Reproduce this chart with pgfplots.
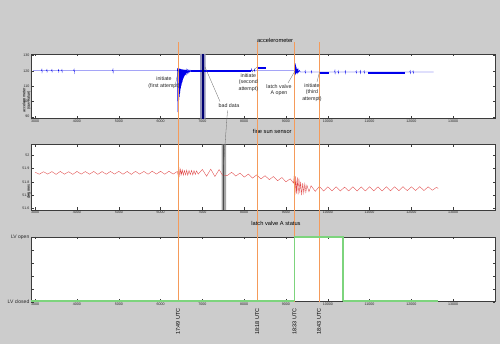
\documentclass[border=0pt]{standalone}
\usepackage{fontspec}
\setmainfont{Liberation Sans}
\usepackage{pgfplots}
\pgfplotsset{compat=1.18}
\definecolor{bg}{RGB}{204,204,204}
\definecolor{evt}{RGB}{245,155,90}
\definecolor{band1}{RGB}{150,150,185}
\definecolor{band2}{RGB}{165,165,165}
\definecolor{sig}{RGB}{225,70,70}
\definecolor{lvg}{RGB}{125,212,125}
\definecolor{frm}{RGB}{60,60,60}
\definecolor{acc}{RGB}{0,0,235}
\pgfplotsset{
 mystyle/.style={
  scale only axis, width=464pt, anchor=south west,
  xmin=2900, xmax=14000,
  xtick={3000,4000,...,13000},
  scaled ticks=false,
  axis background/.style={fill=white},
  tick align=inside, tick pos=both,
  major tick length=2.5pt,
  every tick/.style={frm, line width=0.3pt},
  axis line style={frm, line width=0.4pt},
  ticklabel style={font=\fontsize{3.6}{4}\selectfont, text=black!85},
  /pgf/number format/assume math mode=true,
  /pgf/number format/1000 sep={},
  xticklabel style={inner sep=1pt},
  yticklabel style={inner sep=1.5pt},
  title style={font=\fontsize{5.7}{6.5}\selectfont, anchor=south, inner sep=0pt},
  ylabel style={font=\fontsize{3.9}{4.6}\selectfont, align=center, at={(axis description cs:0,0.5)}, anchor=south, inner sep=0pt, xshift=-14pt},
 }
}
\newcommand\annfont{\fontsize{5.3}{6.8}\selectfont}
\begin{document}
\begin{tikzpicture}
\path[use as bounding box, fill=bg] (0pt,0pt) rectangle (500pt,344pt);

% ---------------- accelerometer ----------------
\begin{axis}[mystyle, at={(31pt,225.3pt)}, height=64.7pt,
  ymin=88.7, ymax=131, ytick={90,100,110,120,130},
  title={accelerometer}, title style={at={(axis description cs:0.526,1)}, yshift=5.5pt},
  ylabel={accelerometer\\(raw value)}]
\addplot[draw=none, fill=band1] coordinates {(6943,88.7)(7079,88.7)(7079,131)(6943,131)} \closedcycle;
\addplot[acc, line width=0.35pt] coordinates {
(2950,120)(3150,120)(3160,121)(3165,119.2)(3170,120)(3270,120)(3280,120.8)(3285,119.4)(3290,120)
(3390,120)(3400,120.8)(3405,119.4)(3410,120)(3550,120)(3560,120.8)(3565,119.4)(3570,120)
(3630,120)(3640,120.8)(3645,119.3)(3650,120)(3920,120)(3930,121)(3935,119)(3940,120)
(4850,120)(4860,121)(4865,119)(4870,120)(6400,120)
(6405,121.8)(6410,93)(6415,121.8)(6420,96)(6425,121.7)(6430,99)(6435,121.6)(6440,101)
(6445,121.5)(6450,103)(6455,121.4)(6460,105)(6465,121.3)(6470,107)(6475,121.2)(6480,108.5)
(6485,121.1)(6490,110)(6495,121)(6500,111)(6505,121)(6510,112)(6515,120.9)(6520,113)
(6525,120.9)(6530,114)(6535,120.8)(6540,114.8)(6545,120.8)(6550,115.5)(6555,120.7)(6560,116)
(6565,120.7)(6570,116.5)(6575,120.6)(6580,117)(6585,120.6)(6590,117.3)(6595,120.5)(6600,117.6)
(6610,120.5)(6620,118)(6630,120.5)(6640,118.4)(6650,120.4)(6660,118.8)(6670,120.4)(6680,119.1)
(6690,120.3)(6700,119.4)(6710,120.3)(6720,119.6)(6730,120)
(8170,120)(8180,121.2)(8190,119.5)(8200,120)(8240,120)(8250,121)(8255,119.6)(8260,120)
(9200,120)(9210,126)(9215,117)(9220,125)(9225,117.5)(9230,124)(9235,118)(9240,123)(9245,118.3)
(9250,122.2)(9260,118.5)(9270,121.5)(9280,118.7)(9290,121)(9300,119)(9320,120.3)(9340,119.2)
(9450,119.2)(9460,120.1)(9465,118.6)(9470,119.2)(9600,119.2)(9610,120)(9615,118.7)(9620,119.2)
(10160,119.2)(10170,120.2)(10175,118.4)(10180,119.2)(10240,119.2)(10250,120)(10255,118.5)(10260,119.2)
(10410,119.2)(10420,120)(10425,118.5)(10430,119.2)(10670,119.2)(10680,119.9)(10685,118.6)(10690,119.2)
(10770,119.2)(10780,120)(10785,118.5)(10790,119.2)(10860,119.2)(10870,119.9)(10875,118.6)(10880,119.2)
(11960,119.2)(11970,120)(11975,118.5)(11980,119.2)(12030,119.2)(12040,119.9)(12045,118.6)(12050,119.2)
(12530,119.2)};
\addplot[acc, line width=2pt] coordinates {(6720,120)(8160,120)};
\addplot[acc, line width=2pt] coordinates {(8320,121.8)(8520,121.8)};
\addplot[acc, line width=1.8pt] coordinates {(9800,118.8)(10030,118.8)};
\addplot[acc, line width=2.3pt] coordinates {(10970,118.8)(11850,118.8)};
\addplot[blue!45!black, line width=1.2pt] coordinates {(7015,88.7)(7015,131)};
\end{axis}

% ---------------- fine sun sensor ----------------
\begin{axis}[mystyle, at={(31pt,134pt)}, height=65.3pt,
  ymin=51.587, ymax=52.08, ytick={51.6,51.7,51.8,51.9,52},
  yticklabel style={/pgf/number format/fixed},
  title={fine sun sensor}, title style={at={(axis description cs:0.52,1)}, yshift=4.5pt},
  ylabel={degrees}]
\addplot[draw=none, fill=band2] coordinates {(7462,51.587)(7565,51.587)(7565,52.08)(7462,52.08)} \closedcycle;
\addplot[sig, line width=0.35pt] coordinates {
(3000,51.872)(3100,51.857)(3200,51.876)(3300,51.858)(3400,51.877)(3500,51.856)(3600,51.878)
(3700,51.857)(3800,51.876)(3900,51.856)(4000,51.878)(4100,51.858)(4200,51.877)(4300,51.857)
(4400,51.878)(4500,51.856)(4600,51.877)(4700,51.857)(4800,51.878)(4900,51.858)(5000,51.879)
(5100,51.857)(5200,51.878)(5300,51.856)(5400,51.879)(5500,51.858)(5600,51.878)(5700,51.857)
(5800,51.880)(5900,51.858)(6000,51.879)(6100,51.857)(6200,51.880)(6300,51.858)(6400,51.878)
(6420,51.850)(6440,51.900)(6460,51.845)(6480,51.895)(6500,51.855)(6520,51.890)(6545,51.850)
(6570,51.885)(6600,51.852)(6625,51.888)(6650,51.850)(6680,51.885)(6710,51.855)(6740,51.886)
(6770,51.852)(6800,51.884)(6830,51.856)(6860,51.882)(6900,51.858)
(7000,51.893)(7100,51.842)(7200,51.895)(7300,51.840)(7400,51.892)(7480,51.850)
(7600,51.848)(7700,51.872)(7800,51.843)(7900,51.866)(8000,51.835)(8100,51.858)(8200,51.828)
(8300,51.852)(8400,51.822)(8500,51.846)(8600,51.816)(8700,51.840)(8800,51.808)(8900,51.832)
(9000,51.800)(9100,51.822)(9180,51.790)
(9200,51.860)(9215,51.700)(9230,51.840)(9250,51.710)(9270,51.835)(9290,51.705)(9310,51.825)
(9330,51.715)(9350,51.800)(9375,51.700)(9400,51.790)(9425,51.715)(9450,51.785)(9475,51.720)
(9500,51.775)(9550,51.725)(9600,51.770)(9700,51.728)(9800,51.765)(9900,51.730)(10000,51.762)
(10100,51.732)(10200,51.762)(10300,51.730)(10400,51.760)(10500,51.731)(10600,51.762)
(10700,51.730)(10800,51.761)(10900,51.731)(11000,51.763)(11100,51.732)(11200,51.762)
(11300,51.731)(11400,51.763)(11500,51.732)(11600,51.762)(11700,51.733)(11800,51.763)
(11900,51.733)(12000,51.762)(12100,51.734)(12200,51.763)(12300,51.734)(12400,51.762)
(12500,51.736)(12600,51.758)(12640,51.750)};
\addplot[black!70, line width=1pt] coordinates {(7500,51.587)(7500,52.08)};
\end{axis}

% ---------------- latch valve A status ----------------
\begin{axis}[mystyle, at={(31pt,42.3pt)}, height=64.7pt, clip=false,
  ymin=0, ymax=1, ytick={0,0.2,0.4,0.6,0.8,1},
  yticklabels={LV closed,,,,,LV open},
  yticklabel style={font=\fontsize{5}{6}\selectfont, inner sep=1.5pt},
  title={latch valve A status}, title style={at={(axis description cs:0.528,1)}, yshift=5.5pt}]
\foreach \t/\lab in {6417/17:49 UTC,8313/18:18 UTC,9203/18:33 UTC,9790/18:43 UTC}{
  \edef\tmp{\noexpand\draw[evt, line width=0.9pt] (axis cs:\t,0) -- ++(0pt,259.7pt);}\tmp
  \edef\tmp{\noexpand\node[rotate=90, anchor=east, inner sep=0pt, font=\noexpand\fontsize{5.5}{6}\noexpand\selectfont] at ([yshift=-6.3pt]axis cs:\t,0) {\lab};}\tmp
}
\end{axis}
% overlay axis with the same geometry so the status line lies above the frame
\begin{axis}[scale only axis, width=464pt, height=64.7pt, anchor=south west, at={(31pt,42.3pt)},
  xmin=2900, xmax=14000, ymin=0, ymax=1, hide axis, clip=false]
\addplot[lvg, line width=1.4pt] coordinates {(2905,0.008)(9203,0.008)};
\addplot[lvg, line width=1.2pt] coordinates {(9203,0.008)(9203,1)(10364,1)(10364,0.008)};
\addplot[lvg, line width=1.4pt] coordinates {(10364,0.008)(12640,0.008)};
\end{axis}

% ---------------- annotations ----------------
\begin{scope}[font=\annfont, align=center, text=black!85]
\node at (164pt,261.5pt) {initiate\\(first attempt)};
\node at (248.3pt,261.5pt) {initiate\\(second\\attempt)};
\node at (279pt,253.8pt) {latch valve\\A open};
\node at (312pt,251.5pt) {initiate\\(third\\attempt)};
\node at (229pt,238.3pt) {bad data};
\end{scope}
\begin{scope}[black!60, line width=0.3pt]
\draw (175.5pt,260pt) -- (178.5pt,274pt);
\draw (252pt,272pt) -- (257pt,277pt);
\draw (288pt,261pt) -- (295pt,273pt);
\draw (317pt,262pt) -- (319.5pt,272pt);
\draw (205pt,277pt) -- (220pt,242.5pt);
\draw (227.5pt,233.5pt) -- (223.5pt,179pt);
\end{scope}
\end{tikzpicture}
\end{document}
